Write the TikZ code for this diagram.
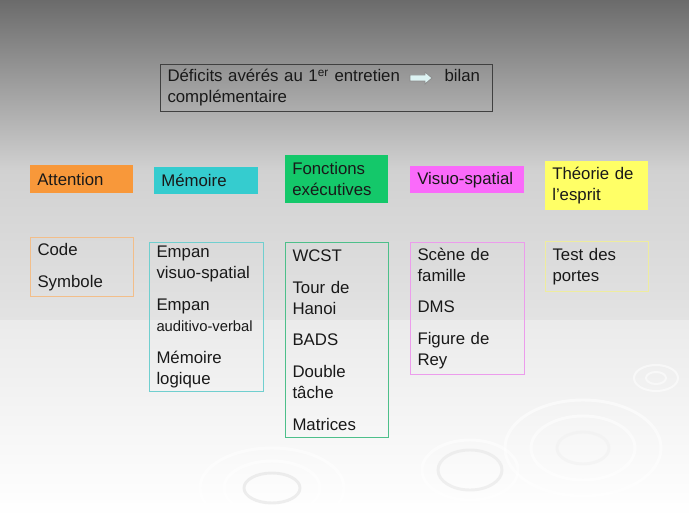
\documentclass[tikz,border=0pt]{standalone}
\usepackage{fontspec}
\setmainfont{Liberation Sans}
\usepackage{xcolor}
\usepackage{tikz}

\definecolor{attcol}{HTML}{F8983A}
\definecolor{memcol}{HTML}{35CCCF}
\definecolor{foncol}{HTML}{14C86A}
\definecolor{viscol}{HTML}{FA6AFA}
\definecolor{theocol}{HTML}{FFFF66}
\definecolor{attline}{HTML}{F2BE8A}
\definecolor{memline}{HTML}{70CFCF}
\definecolor{fonline}{HTML}{4DBF8A}
\definecolor{visline}{HTML}{EC9CEC}
\definecolor{theoline}{HTML}{EEEC9E}
\definecolor{flechecol}{HTML}{DDF3F3}

\newcommand{\mainsize}{\fontsize{12.6pt}{15.75pt}\selectfont}
\newcommand{\smallsize}{\fontsize{11.1pt}{12pt}\selectfont}

\begin{document}
\begin{tikzpicture}[
    x=0.75pt, y=-0.75pt,
    head/.style={anchor=north west, inner xsep=5.25pt, inner ysep=0pt,
                 align=left, font=\mainsize, text=black!90},
    list/.style={anchor=north west, draw, line width=0.75pt, inner xsep=5.25pt,
                 inner ysep=0pt, align=left, font=\mainsize, text=black!90},
    ripple/.style={draw=white, line width=2.2pt, opacity=0.55}
]
% background
\shade[top color=black!58, bottom color=black!18] (0,0) rectangle (689,170);
\shade[top color=black!18, bottom color=black!11] (0,170) rectangle (689,320);
\shade[top color=black!8, bottom color=white] (0,320) rectangle (689,517);
\useasboundingbox (0,0) rectangle (689,517);

% ripples
\draw[ripple] (272,488) ellipse (72 and 40);
\draw[ripple, draw=black!12] (272,488) ellipse (28 and 15);
\draw[ripple] (272,488) ellipse (48 and 27);
\draw[ripple, draw=black!10] (470,470) ellipse (32 and 20);
\draw[ripple] (470,470) ellipse (48 and 30);
\draw[ripple] (583,448) ellipse (78 and 48);
\draw[ripple] (583,448) ellipse (52 and 32);
\draw[ripple, draw=black!6] (583,448) ellipse (26 and 16);
\draw[ripple, line width=1.5pt] (656,378) ellipse (22 and 13);
\draw[ripple, line width=1.5pt] (656,378) ellipse (10 and 6);

% title box
\node[anchor=north west, draw=black!75, line width=0.75pt, text width=238.5pt,
      minimum height=35.25pt, inner xsep=5.25pt, inner ysep=0pt, align=left,
      font=\mainsize, text=black!90] (bilan) at (160,64)
  {Déficits avérés au 1\textsuperscript{er} entretien\nobreak\hspace{33.5pt}\mbox{bilan}\\complémentaire};
\coordinate (fleche) at (421,78);
\filldraw[shift={(fleche)}, fill=flechecol, draw=black!45, line width=0.6pt]
  (-11,-3) -- (4,-3) -- (4,-6) -- (11,0) -- (4,6) -- (4,3) -- (-11,3) -- cycle;

% headers
\node[head, fill=attcol, text width=66.75pt, minimum height=21pt] (attention) at (30,165) {Attention};
\node[head, fill=memcol, text width=67.5pt, minimum height=20.25pt] (memoire) at (154,167) {Mémoire};
\node[head, fill=foncol, text width=66.75pt, minimum height=36pt] (fonctions) at (285,155) {Fonctions\\exécutives};
\node[head, fill=viscol, text width=75pt, minimum height=20.25pt] (visuo) at (410,166) {Visuo-spatial};
\node[head, fill=theocol, text width=66.75pt, minimum height=36.75pt] (theorie) at (545,161) {Théorie de\\l’esprit};

% lists
\node[list, draw=attline, text width=66.75pt, minimum height=44.25pt] (attlist) at (30,237)
  {Code\\[8pt]Symbole};
\node[list, draw=memline, text width=75pt, minimum height=111.75pt] (memlist) at (149,242)
  {Empan\\visuo-spatial\\[8pt]Empan\\{\smallsize auditivo-verbal}\\[8pt]Mémoire\\logique};
\node[list, draw=fonline, text width=66.75pt, minimum height=146.25pt] (fonlist) at (285,242)
  {WCST\\[8pt]Tour de\\Hanoi\\[8pt]BADS\\[8pt]Double\\tâche\\[8pt]Matrices};
\node[list, draw=visline, text width=75pt, minimum height=99pt] (vislist) at (410,242)
  {Scène de\\famille\\[8pt]DMS\\[8pt]Figure de\\Rey};
\node[list, draw=theoline, text width=66.75pt, minimum height=37.5pt] (theolist) at (545,241)
  {Test des\\portes};
\end{tikzpicture}
\end{document}
